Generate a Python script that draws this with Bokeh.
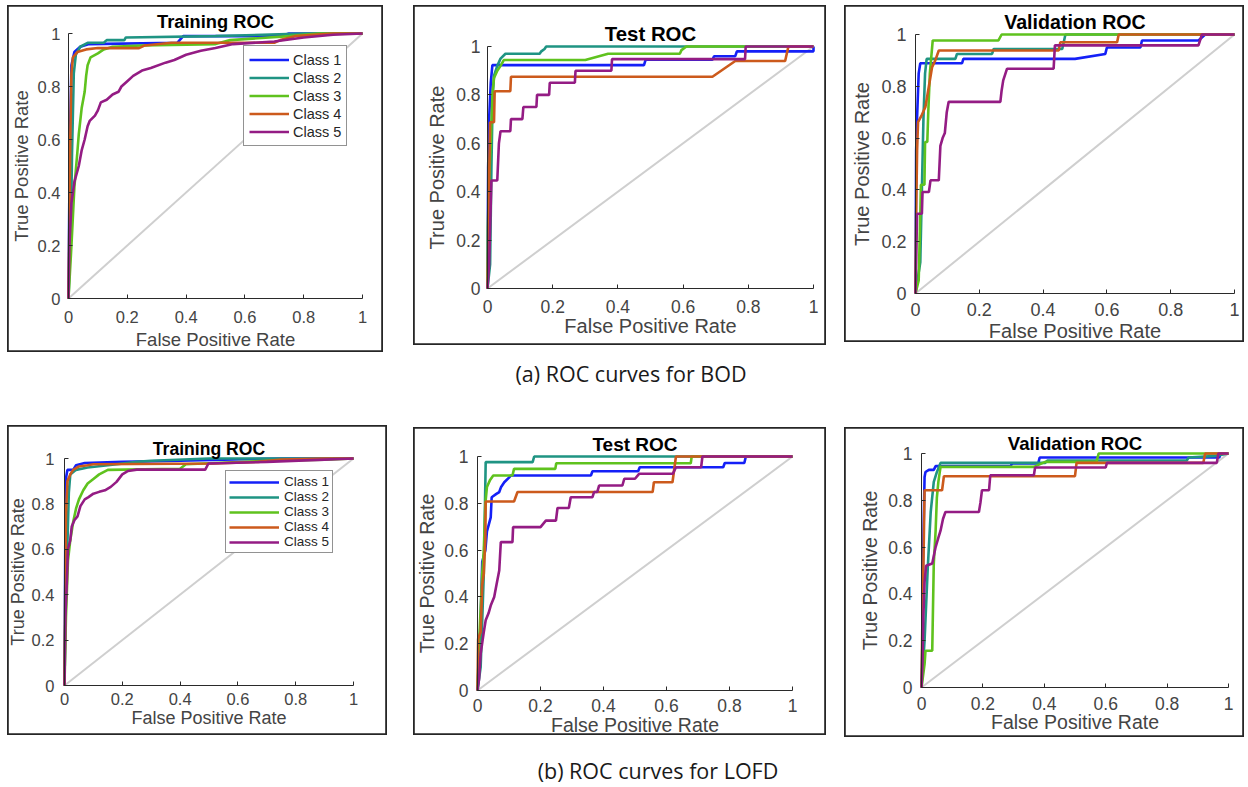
from bokeh.plotting import figure
from bokeh.layouts import row, column
from bokeh.models import Spacer, FixedTicker, Label, Range1d
from bokeh.embed import file_html
from bokeh.resources import INLINE

# ---------------- data ----------------
class_names = ["Class 1", "Class 2", "Class 3", "Class 4", "Class 5"]
class_colors = ["#1420f7", "#1f9483", "#5fc21e", "#cc5a1c", "#941c84"]
tick_values = [0, 0.2, 0.4, 0.6, 0.8, 1]
tick_labels = ["0", "0.2", "0.4", "0.6", "0.8", "1"]
diag = [0, 1]
caption_a = "(a) ROC curves for BOD"
caption_b = "(b) ROC curves for LOFD"

# (a) BOD - Training
bod_train_c1_fpr = [0, 0.004, 0.01, 0.02, 0.04, 0.07, 0.37, 0.39, 0.72, 0.75, 1]
bod_train_c1_tpr = [0, 0.55, 0.88, 0.93, 0.95, 0.96, 0.965, 0.99, 0.99, 1.0, 1.0]
bod_train_c2_fpr = [0, 0.008, 0.012, 0.018, 0.025, 0.04, 0.065, 0.12, 0.13, 0.19, 0.195, 0.5, 0.8, 1]
bod_train_c2_tpr = [0, 0.25, 0.55, 0.85, 0.92, 0.95, 0.965, 0.965, 0.975, 0.975, 0.985, 0.99, 1.0, 1.0]
bod_train_c3_fpr = [0, 0.01, 0.02, 0.03, 0.035, 0.045, 0.055, 0.06, 0.065, 0.075, 0.1, 0.12, 0.15, 0.25, 0.5, 0.55, 0.75, 0.85, 1]
bod_train_c3_tpr = [0, 0.2, 0.42, 0.55, 0.62, 0.72, 0.78, 0.84, 0.88, 0.91, 0.925, 0.94, 0.95, 0.955, 0.96, 0.975, 0.99, 1.0, 1.0]
bod_train_c4_fpr = [0, 0.003, 0.006, 0.01, 0.015, 0.03, 0.06, 0.1, 0.24, 0.26, 0.35, 0.7, 0.72, 0.77, 0.9, 1]
bod_train_c4_tpr = [0, 0.3, 0.6, 0.85, 0.91, 0.93, 0.94, 0.945, 0.945, 0.955, 0.965, 0.965, 0.975, 0.99, 1.0, 1.0]
bod_train_c5_fpr = [0, 0.003, 0.01, 0.02, 0.035, 0.045, 0.055, 0.065, 0.072, 0.09, 0.1, 0.11, 0.13, 0.15, 0.17, 0.18, 0.2, 0.22, 0.25, 0.28, 0.33, 0.36, 0.4, 0.45, 0.5, 0.56, 0.7, 0.8, 0.9, 1]
bod_train_c5_tpr = [0, 0.2, 0.36, 0.44, 0.5, 0.56, 0.6, 0.65, 0.67, 0.69, 0.71, 0.74, 0.75, 0.77, 0.78, 0.8, 0.82, 0.84, 0.86, 0.87, 0.89, 0.9, 0.92, 0.935, 0.945, 0.96, 0.97, 0.985, 0.995, 1.0]

# (a) BOD - Test
bod_test_c1_fpr = [0, 0.002, 0.005, 0.01, 0.015, 0.48, 0.485, 0.69, 0.695, 0.76, 0.765, 1, 1]
bod_test_c1_tpr = [0, 0.5, 0.7, 0.85, 0.923, 0.923, 0.945, 0.945, 0.96, 0.96, 0.98, 0.98, 1.0]
bod_test_c2_fpr = [0, 0.008, 0.012, 0.016, 0.02, 0.03, 0.04, 0.055, 0.16, 0.165, 0.175, 0.18, 1]
bod_test_c2_tpr = [0, 0.1, 0.5, 0.8, 0.88, 0.92, 0.95, 0.97, 0.97, 0.98, 0.99, 1.0, 1.0]
bod_test_c3_fpr = [0, 0.001, 0.005, 0.01, 0.015, 0.02, 0.03, 0.04, 0.05, 0.3, 0.37, 0.59, 0.595, 0.61, 1]
bod_test_c3_tpr = [0, 0.25, 0.45, 0.6, 0.8, 0.87, 0.9, 0.92, 0.944, 0.944, 0.97, 0.97, 0.985, 1.0, 1.0]
bod_test_c4_fpr = [0, 0.003, 0.005, 0.008, 0.02, 0.022, 0.07, 0.072, 0.69, 0.76, 0.913, 0.923, 1]
bod_test_c4_tpr = [0, 0.2, 0.45, 0.687, 0.687, 0.815, 0.815, 0.875, 0.875, 0.94, 0.94, 1.0, 1.0]
bod_test_c5_fpr = [0, 0.005, 0.008, 0.012, 0.03, 0.035, 0.04, 0.07, 0.072, 0.107, 0.11, 0.15, 0.152, 0.189, 0.191, 0.268, 0.27, 0.38, 0.382, 0.79, 0.792, 1]
bod_test_c5_tpr = [0, 0.1, 0.25, 0.446, 0.446, 0.6, 0.65, 0.65, 0.7, 0.7, 0.75, 0.75, 0.8, 0.8, 0.85, 0.85, 0.9, 0.9, 0.948, 0.948, 1.0, 1.0]

# (a) BOD - Validation
bod_val_c1_fpr = [0, 0.002, 0.005, 0.01, 0.015, 0.146, 0.15, 0.5, 0.595, 0.6, 0.705, 0.71, 0.887, 0.908, 1]
bod_val_c1_tpr = [0, 0.55, 0.68, 0.85, 0.889, 0.889, 0.906, 0.906, 0.925, 0.95, 0.95, 0.977, 0.977, 1.0, 1.0]
bod_val_c2_fpr = [0, 0.015, 0.02, 0.025, 0.03, 0.035, 0.125, 0.13, 0.24, 0.245, 0.46, 0.47, 1]
bod_val_c2_tpr = [0, 0.12, 0.4, 0.68, 0.85, 0.906, 0.906, 0.925, 0.925, 0.944, 0.944, 1.0, 1.0]
bod_val_c3_fpr = [0, 0.01, 0.015, 0.017, 0.028, 0.03, 0.037, 0.04, 0.045, 0.05, 0.054, 0.26, 0.27, 1]
bod_val_c3_tpr = [0, 0.05, 0.3, 0.42, 0.42, 0.585, 0.585, 0.7, 0.85, 0.92, 0.977, 0.977, 1.0, 1.0]
bod_val_c4_fpr = [0, 0.002, 0.005, 0.008, 0.02, 0.031, 0.042, 0.052, 0.062, 0.073, 0.449, 0.454, 0.632, 0.637, 1]
bod_val_c4_tpr = [0, 0.3, 0.55, 0.662, 0.69, 0.72, 0.8, 0.874, 0.9, 0.938, 0.938, 0.97, 0.97, 1.0, 1.0]
bod_val_c5_fpr = [0, 0.005, 0.02, 0.022, 0.042, 0.047, 0.073, 0.078, 0.085, 0.092, 0.098, 0.104, 0.266, 0.27, 0.275, 0.287, 0.433, 0.437, 0.887, 0.898, 1]
bod_val_c5_tpr = [0, 0.308, 0.308, 0.392, 0.392, 0.437, 0.437, 0.57, 0.6, 0.62, 0.7, 0.74, 0.74, 0.784, 0.823, 0.868, 0.868, 0.958, 0.958, 1.0, 1.0]

# (b) LOFD - Training
lofd_train_c1_fpr = [0, 0.003, 0.006, 0.01, 0.03, 0.04, 0.07, 0.2, 0.4, 0.55, 0.75, 1]
lofd_train_c1_tpr = [0, 0.7, 0.92, 0.95, 0.95, 0.97, 0.98, 0.985, 0.99, 0.995, 1.0, 1.0]
lofd_train_c2_fpr = [0, 0.005, 0.01, 0.015, 0.02, 0.04, 0.08, 0.15, 0.25, 0.3, 0.5, 1]
lofd_train_c2_tpr = [0, 0.5, 0.62, 0.85, 0.93, 0.95, 0.96, 0.97, 0.985, 0.99, 1.0, 1.0]
lofd_train_c3_fpr = [0, 0.005, 0.012, 0.02, 0.03, 0.04, 0.05, 0.065, 0.08, 0.1, 0.12, 0.15, 0.4, 0.42, 0.7, 0.9, 1]
lofd_train_c3_tpr = [0, 0.3, 0.55, 0.64, 0.72, 0.78, 0.82, 0.86, 0.89, 0.91, 0.93, 0.95, 0.955, 0.975, 0.99, 0.995, 1.0]
lofd_train_c4_fpr = [0, 0.003, 0.005, 0.01, 0.02, 0.03, 0.05, 0.08, 0.1, 0.52, 0.67, 0.75, 0.9, 1]
lofd_train_c4_tpr = [0, 0.5, 0.75, 0.9, 0.93, 0.95, 0.965, 0.97, 0.975, 0.978, 0.985, 0.995, 1.0, 1.0]
lofd_train_c5_fpr = [0, 0.003, 0.008, 0.012, 0.02, 0.025, 0.035, 0.045, 0.055, 0.07, 0.083, 0.1, 0.12, 0.14, 0.16, 0.18, 0.2, 0.22, 0.25, 0.487, 0.498, 0.7, 0.9, 1]
lofd_train_c5_tpr = [0, 0.3, 0.45, 0.6, 0.64, 0.7, 0.73, 0.745, 0.79, 0.82, 0.83, 0.845, 0.853, 0.86, 0.875, 0.897, 0.93, 0.945, 0.951, 0.951, 0.978, 0.985, 0.995, 1.0]

# (b) LOFD - Test
lofd_test_c1_fpr = [0, 0.01, 0.015, 0.025, 0.03, 0.042, 0.045, 0.06, 0.069, 0.075, 0.085, 0.1, 0.106, 0.36, 0.365, 0.51, 0.515, 0.78, 0.785, 0.847, 0.852, 1]
lofd_test_c1_tpr = [0, 0.3, 0.55, 0.6, 0.68, 0.74, 0.826, 0.84, 0.848, 0.87, 0.89, 0.91, 0.919, 0.919, 0.937, 0.937, 0.954, 0.954, 0.972, 0.972, 1.0, 1.0]
lofd_test_c2_fpr = [0, 0.01, 0.015, 0.02, 0.026, 0.175, 0.18, 1]
lofd_test_c2_tpr = [0, 0.1, 0.3, 0.5, 0.976, 0.976, 1.0, 1.0]
lofd_test_c3_fpr = [0, 0.005, 0.01, 0.015, 0.02, 0.025, 0.03, 0.04, 0.05, 0.111, 0.116, 0.247, 0.25, 0.677, 0.68, 1]
lofd_test_c3_tpr = [0, 0.2, 0.35, 0.5, 0.6, 0.8, 0.87, 0.9, 0.919, 0.919, 0.947, 0.947, 0.971, 0.971, 1.0, 1.0]
lofd_test_c4_fpr = [0, 0.002, 0.01, 0.015, 0.02, 0.025, 0.026, 0.116, 0.127, 0.556, 0.56, 0.619, 0.63, 1]
lofd_test_c4_tpr = [0, 0.22, 0.25, 0.45, 0.5, 0.65, 0.808, 0.808, 0.848, 0.848, 0.89, 0.89, 1.0, 1.0]
lofd_test_c5_fpr = [0, 0.005, 0.01, 0.02, 0.026, 0.035, 0.042, 0.053, 0.06, 0.069, 0.074, 0.111, 0.113, 0.2, 0.217, 0.249, 0.254, 0.29, 0.296, 0.365, 0.37, 0.38, 0.386, 0.46, 0.466, 0.5, 0.513, 0.62, 0.63, 0.71, 0.714, 1]
lofd_test_c5_tpr = [0, 0.05, 0.157, 0.25, 0.3, 0.33, 0.363, 0.4, 0.45, 0.513, 0.634, 0.634, 0.698, 0.698, 0.726, 0.726, 0.78, 0.78, 0.826, 0.826, 0.848, 0.848, 0.876, 0.876, 0.905, 0.905, 0.926, 0.926, 0.954, 0.954, 1.0, 1.0]

# (b) LOFD - Validation
lofd_val_c1_fpr = [0, 0.003, 0.005, 0.01, 0.013, 0.024, 0.04, 0.046, 0.29, 0.295, 0.38, 0.385, 0.97, 0.975, 1]
lofd_val_c1_tpr = [0, 0.2, 0.55, 0.9, 0.921, 0.93, 0.93, 0.946, 0.946, 0.957, 0.957, 0.983, 0.983, 1.0, 1.0]
lofd_val_c2_fpr = [0, 0.01, 0.02, 0.03, 0.04, 0.05, 0.062, 0.403, 0.41, 0.864, 0.87, 0.96, 1]
lofd_val_c2_tpr = [0, 0.2, 0.5, 0.75, 0.879, 0.92, 0.96, 0.96, 0.97, 0.97, 0.983, 0.99, 1.0]
lofd_val_c3_fpr = [0, 0.01, 0.013, 0.035, 0.04, 0.046, 0.05, 0.055, 0.062, 0.366, 0.403, 0.57, 0.577, 1]
lofd_val_c3_tpr = [0, 0.1, 0.157, 0.157, 0.53, 0.67, 0.81, 0.88, 0.943, 0.943, 0.964, 0.964, 1.0, 1.0]
lofd_val_c4_fpr = [0, 0.003, 0.006, 0.01, 0.067, 0.073, 0.5, 0.505, 0.918, 0.924, 1]
lofd_val_c4_tpr = [0, 0.3, 0.5, 0.843, 0.843, 0.903, 0.903, 0.96, 0.96, 1.0, 1.0]
lofd_val_c5_fpr = [0, 0.003, 0.006, 0.01, 0.015, 0.035, 0.046, 0.055, 0.062, 0.07, 0.078, 0.187, 0.192, 0.197, 0.22, 0.224, 0.366, 0.37, 0.6, 0.604, 0.962, 0.967, 1]
lofd_val_c5_tpr = [0, 0.1, 0.3, 0.45, 0.52, 0.53, 0.6, 0.64, 0.67, 0.72, 0.75, 0.75, 0.79, 0.843, 0.843, 0.907, 0.907, 0.94, 0.94, 0.96, 0.96, 1.0, 1.0]

# ---------------- helpers ----------------
FONT = "Liberation Sans"


def make_panel(title, curves, g, legend=None):
    L, T, R, B = g["box"]
    X0, X1, Y1, Y0 = g["axes"]
    sx = X1 - X0
    sy = Y0 - Y1
    # the frame covers the whole boxed panel; axes are pinned at data 0
    x_rng = Range1d(-(X0 - L) / sx, 1 + (R - X1) / sx)
    y_rng = Range1d(-(B - Y0) / sy, 1 + (Y1 - T) / sy)
    p = figure(width=R - L, height=B - T, x_range=x_rng, y_range=y_rng, title=None,
               output_backend="svg", toolbar_location=None,
               min_border=0, min_border_left=0, min_border_right=0,
               min_border_top=0, min_border_bottom=0)
    p.outline_line_color = "#262626"
    p.outline_line_width = 2.6
    p.xgrid.visible = False
    p.ygrid.visible = False
    p.background_fill_color = "white"
    p.border_fill_color = "white"

    p.line(diag, diag, line_color="#cfcfcf", line_width=2)
    for i, (fx, ty) in enumerate(curves):
        kw = {}
        if legend is not None:
            kw["legend_label"] = class_names[i]
        p.line(fx, ty, line_color=class_colors[i], line_width=2.6, **kw)

    overrides = dict(zip(tick_values, tick_labels))
    for ax in (p.xaxis[0], p.yaxis[0]):
        ax.fixed_location = 0
        ax.ticker = FixedTicker(ticks=tick_values)
        ax.major_label_overrides = overrides
        ax.bounds = (0, 1)
        ax.axis_line_color = "#2a2a2a"
        ax.axis_line_width = 1
        ax.major_tick_line_color = "#2a2a2a"
        ax.major_tick_in = 4
        ax.major_tick_out = 0
        ax.minor_tick_line_color = None
        ax.major_label_text_font = FONT
        ax.major_label_text_font_size = g["tick_fs"]
        ax.major_label_text_color = "#444444"
        ax.axis_label_text_font = FONT
        ax.axis_label_text_font_size = g["label_fs"]
        ax.axis_label_text_font_style = "normal"
        ax.axis_label_text_color = "#444444"
    p.xaxis.axis_label = "False Positive Rate"
    p.yaxis.axis_label = "True Positive Rate"
    p.xaxis.major_label_standoff = g["x_ts"]
    p.xaxis.axis_label_standoff = g["x_ls"]
    p.yaxis.major_label_standoff = g["y_ts"]
    p.yaxis.axis_label_standoff = g["y_ls"]
    p.yaxis.major_label_orientation = "horizontal"

    p.add_layout(Label(x=0.5, y=1 + (Y1 - g["title_y"]) / sy, text=title,
                       text_align="center", text_baseline="middle",
                       text_font=FONT, text_font_style="bold",
                       text_font_size=g["title_fs"], text_color="#000000"))

    if legend is not None:
        lg = p.legend[0]
        lx0, ly0, lx1, ly1 = legend["box"]
        lg.location = (lx0 - L, B - ly1)
        lg.margin = 0
        lg.padding = legend["padding"]
        lg.spacing = legend["spacing"]
        lg.glyph_width = legend["glyph_w"]
        lg.glyph_height = legend["row_h"]
        lg.label_height = legend["row_h"]
        lg.label_standoff = legend["standoff"]
        lg.label_text_font = FONT
        lg.label_text_font_size = legend["fs"]
        lg.label_text_color = "#262626"
        lg.border_line_color = "#262626"
        lg.border_line_width = 1
        lg.background_fill_color = "white"
        lg.background_fill_alpha = 1.0
    return p


def caption_fig(text, width, height, cx, cy_from_top):
    c = figure(width=width, height=height, x_range=Range1d(0, width), y_range=Range1d(0, height),
               x_axis_type=None, y_axis_type=None, output_backend="svg", title=None,
               toolbar_location=None, min_border=0)
    c.outline_line_color = None
    c.xgrid.visible = False
    c.ygrid.visible = False
    c.add_layout(Label(x=cx, y=height - cy_from_top, text=text, text_align="center",
                       text_baseline="middle", text_font="Open Sans",
                       text_font_size="21.5px", text_color="#1a1a1a"))
    return c


# ---------------- layout geometry (page pixels) ----------------
# box = outer panel frame (L, T, R, B); axes = pixel of fpr 0, fpr 1, tpr 1, tpr 0
g1 = dict(box=(7, 5, 383, 352), axes=(68, 362, 33, 298), tick_fs="16.5px", label_fs="18.5px",
          title_fs="18.3px", title_y=21, x_ts=12, x_ls=3, y_ts=8, y_ls=3)
g2 = dict(box=(413, 5, 826, 345), axes=(487, 813, 46, 288), tick_fs="17.5px", label_fs="20px",
          title_fs="20.4px", title_y=33, x_ts=11, x_ls=-1, y_ts=7, y_ls=5)
g3 = dict(box=(844, 5, 1244, 342), axes=(915, 1234, 34, 293), tick_fs="18px", label_fs="20px",
          title_fs="19.6px", title_y=21, x_ts=9, x_ls=1, y_ts=9, y_ls=5)
g4 = dict(box=(7, 425, 387, 735), axes=(64, 353, 458, 685), tick_fs="16.5px", label_fs="18px",
          title_fs="17.6px", title_y=448, x_ts=7, x_ls=0, y_ts=10, y_ls=1)
g5 = dict(box=(413, 427, 826, 735), axes=(477, 792, 456, 690), tick_fs="17.5px", label_fs="19.5px",
          title_fs="19px", title_y=444, x_ts=8, x_ls=-1, y_ts=9, y_ls=3)
g6 = dict(box=(844, 427, 1244, 737), axes=(921, 1228, 453, 687), tick_fs="17.5px", label_fs="19.5px",
          title_fs="18.6px", title_y=443, x_ts=9, x_ls=-2, y_ts=9, y_ls=4)

leg1 = dict(box=(243, 49, 345, 146), padding=5, spacing=1, glyph_w=40, row_h=17,
            standoff=4, fs="14.5px")
leg4 = dict(box=(225, 473, 333, 553), padding=3, spacing=0, glyph_w=50, row_h=14,
            standoff=5, fs="13.5px")

bod_train = [(bod_train_c1_fpr, bod_train_c1_tpr), (bod_train_c2_fpr, bod_train_c2_tpr),
             (bod_train_c3_fpr, bod_train_c3_tpr), (bod_train_c4_fpr, bod_train_c4_tpr),
             (bod_train_c5_fpr, bod_train_c5_tpr)]
bod_test = [(bod_test_c1_fpr, bod_test_c1_tpr), (bod_test_c2_fpr, bod_test_c2_tpr),
            (bod_test_c3_fpr, bod_test_c3_tpr), (bod_test_c4_fpr, bod_test_c4_tpr),
            (bod_test_c5_fpr, bod_test_c5_tpr)]
bod_val = [(bod_val_c1_fpr, bod_val_c1_tpr), (bod_val_c2_fpr, bod_val_c2_tpr),
           (bod_val_c3_fpr, bod_val_c3_tpr), (bod_val_c4_fpr, bod_val_c4_tpr),
           (bod_val_c5_fpr, bod_val_c5_tpr)]
lofd_train = [(lofd_train_c1_fpr, lofd_train_c1_tpr), (lofd_train_c2_fpr, lofd_train_c2_tpr),
              (lofd_train_c3_fpr, lofd_train_c3_tpr), (lofd_train_c4_fpr, lofd_train_c4_tpr),
              (lofd_train_c5_fpr, lofd_train_c5_tpr)]
lofd_test = [(lofd_test_c1_fpr, lofd_test_c1_tpr), (lofd_test_c2_fpr, lofd_test_c2_tpr),
             (lofd_test_c3_fpr, lofd_test_c3_tpr), (lofd_test_c4_fpr, lofd_test_c4_tpr),
             (lofd_test_c5_fpr, lofd_test_c5_tpr)]
lofd_val = [(lofd_val_c1_fpr, lofd_val_c1_tpr), (lofd_val_c2_fpr, lofd_val_c2_tpr),
            (lofd_val_c3_fpr, lofd_val_c3_tpr), (lofd_val_c4_fpr, lofd_val_c4_tpr),
            (lofd_val_c5_fpr, lofd_val_c5_tpr)]

p1 = make_panel("Training ROC", bod_train, g1, leg1)
p2 = make_panel("Test ROC", bod_test, g2)
p3 = make_panel("Validation ROC", bod_val, g3)
p4 = make_panel("Training ROC", lofd_train, g4, leg4)
p5 = make_panel("Test ROC", lofd_test, g5)
p6 = make_panel("Validation ROC", lofd_val, g6)

TOTAL_W = 1244
cap_a = caption_fig(caption_a, TOTAL_W, 425 - 352, 630.5, 373 - 352)
cap_b = caption_fig(caption_b, TOTAL_W, 785 - 737, 657.5, 770 - 737)

row1 = row(Spacer(width=7, height=5), p1, Spacer(width=413 - 383, height=5), p2,
           Spacer(width=844 - 826, height=5), p3)
row2 = row(Spacer(width=7, height=5), p4, Spacer(width=413 - 387, height=5),
           column(Spacer(width=10, height=427 - 425), p5),
           Spacer(width=844 - 826, height=5),
           column(Spacer(width=10, height=427 - 425), p6))
layout = column(Spacer(width=10, height=5), row1, cap_a, row2, cap_b)

open("out.html", "w").write(file_html(layout, INLINE))
